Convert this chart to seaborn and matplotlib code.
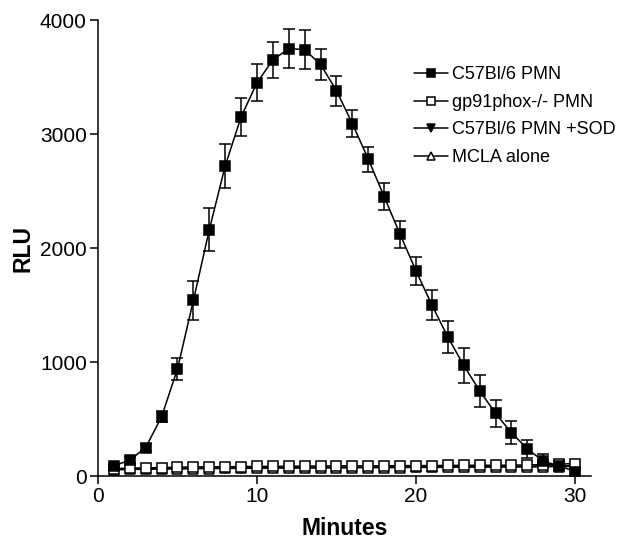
import matplotlib
matplotlib.use("Agg")
import matplotlib.pyplot as plt
import numpy as np
import pandas as pd
import seaborn as sns

minutes = list(range(1, 31))

# C57Bl/6 PMN, mean and SEM
wt_mean = [90, 140, 250, 520, 940, 1540, 2160, 2720, 3150, 3450,
           3650, 3750, 3740, 3610, 3380, 3090, 2780, 2450, 2120, 1800,
           1500, 1220, 970, 750, 550, 380, 240, 130, 90, 40]
wt_sem = [20, 30, 30, 50, 100, 170, 190, 190, 170, 160,
          160, 170, 170, 140, 130, 120, 110, 120, 120, 120,
          130, 140, 150, 140, 120, 100, 80, 60, 40, 30]

# gp91phox-/- PMN
ko_mean = [65, 70, 72, 75, 78, 80, 82, 82, 84, 85,
           85, 86, 88, 88, 90, 90, 90, 90, 92, 92,
           92, 94, 94, 95, 95, 96, 98, 100, 105, 110]

# C57Bl/6 PMN +SOD and MCLA alone (hidden under the open squares)
sod_mean = [60, 62, 64, 66, 68, 70, 70, 72, 72, 74,
            74, 75, 76, 76, 78, 78, 78, 80, 80, 80,
            82, 82, 82, 84, 84, 85, 86, 88, 90, 92]
mcla_mean = [55, 58, 60, 62, 63, 65, 66, 67, 68, 69,
             70, 70, 71, 72, 72, 73, 74, 74, 75, 76,
             76, 77, 78, 78, 79, 80, 80, 82, 84, 86]

sns.set_style("ticks")
plt.rcParams['font.family'] = ['Liberation Sans', 'DejaVu Sans']
plt.rcParams['text.color'] = 'black'
plt.rcParams['axes.labelcolor'] = 'black'

fig = plt.figure(figsize=(6.24, 5.41), dpi=100)
ax = fig.add_axes([0.157, 0.12, 0.79, 0.843])

df_sod = pd.DataFrame({'Minutes': minutes, 'RLU': sod_mean})
df_mcla = pd.DataFrame({'Minutes': minutes, 'RLU': mcla_mean})
df_ko = pd.DataFrame({'Minutes': minutes, 'RLU': ko_mean})
df_wt = pd.DataFrame({'Minutes': minutes, 'RLU': wt_mean})

common = dict(color='black', lw=1.1, markersize=7.5, markeredgewidth=1.1,
              markeredgecolor='black', ax=ax)

sns.lineplot(data=df_sod, x='Minutes', y='RLU', marker='v',
             markerfacecolor='black', label='C57Bl/6 PMN +SOD', zorder=2, **common)
sns.lineplot(data=df_mcla, x='Minutes', y='RLU', marker='^',
             markerfacecolor='white', label='MCLA alone', zorder=2, **common)
ax.errorbar(minutes, wt_mean, yerr=wt_sem, fmt='none', ecolor='black',
            elinewidth=1.1, capsize=4.5, capthick=1.1, zorder=3)
sns.lineplot(data=df_wt, x='Minutes', y='RLU', marker='s',
             markerfacecolor='black', label='C57Bl/6 PMN', zorder=4, **common)
sns.lineplot(data=df_ko, x='Minutes', y='RLU', marker='s',
             markerfacecolor='white', label='gp91phox-/- PMN', zorder=3, **common)

handles, labels = ax.get_legend_handles_labels()
order = ['C57Bl/6 PMN', 'gp91phox-/- PMN', 'C57Bl/6 PMN +SOD', 'MCLA alone']
hmap = dict(zip(labels, handles))
leg = ax.legend([hmap[k] for k in order], order, loc='upper left',
                bbox_to_anchor=(0.63, 0.91), frameon=False, fontsize=13,
                handlelength=1.9, handletextpad=0.2, labelspacing=0.58,
                markerscale=0.75, borderpad=0.3, borderaxespad=0)

ax.set_xlim(0, 31)
ax.set_ylim(0, 4000)
ax.set_xticks([0, 10, 20, 30])
ax.set_yticks([0, 1000, 2000, 3000, 4000])
ax.tick_params(axis='both', labelsize=15, length=6, width=1.1,
               direction='out', colors='black', pad=2)
for s in ['left', 'bottom']:
    ax.spines[s].set_linewidth(1.1)
    ax.spines[s].set_color('black')
sns.despine(ax=ax)

ax.set_xlabel('Minutes', fontsize=16.5, fontweight='bold', labelpad=8)
ax.set_ylabel('RLU', fontsize=16.5, fontweight='bold', labelpad=4)

fig.savefig('out.png', dpi=100)
